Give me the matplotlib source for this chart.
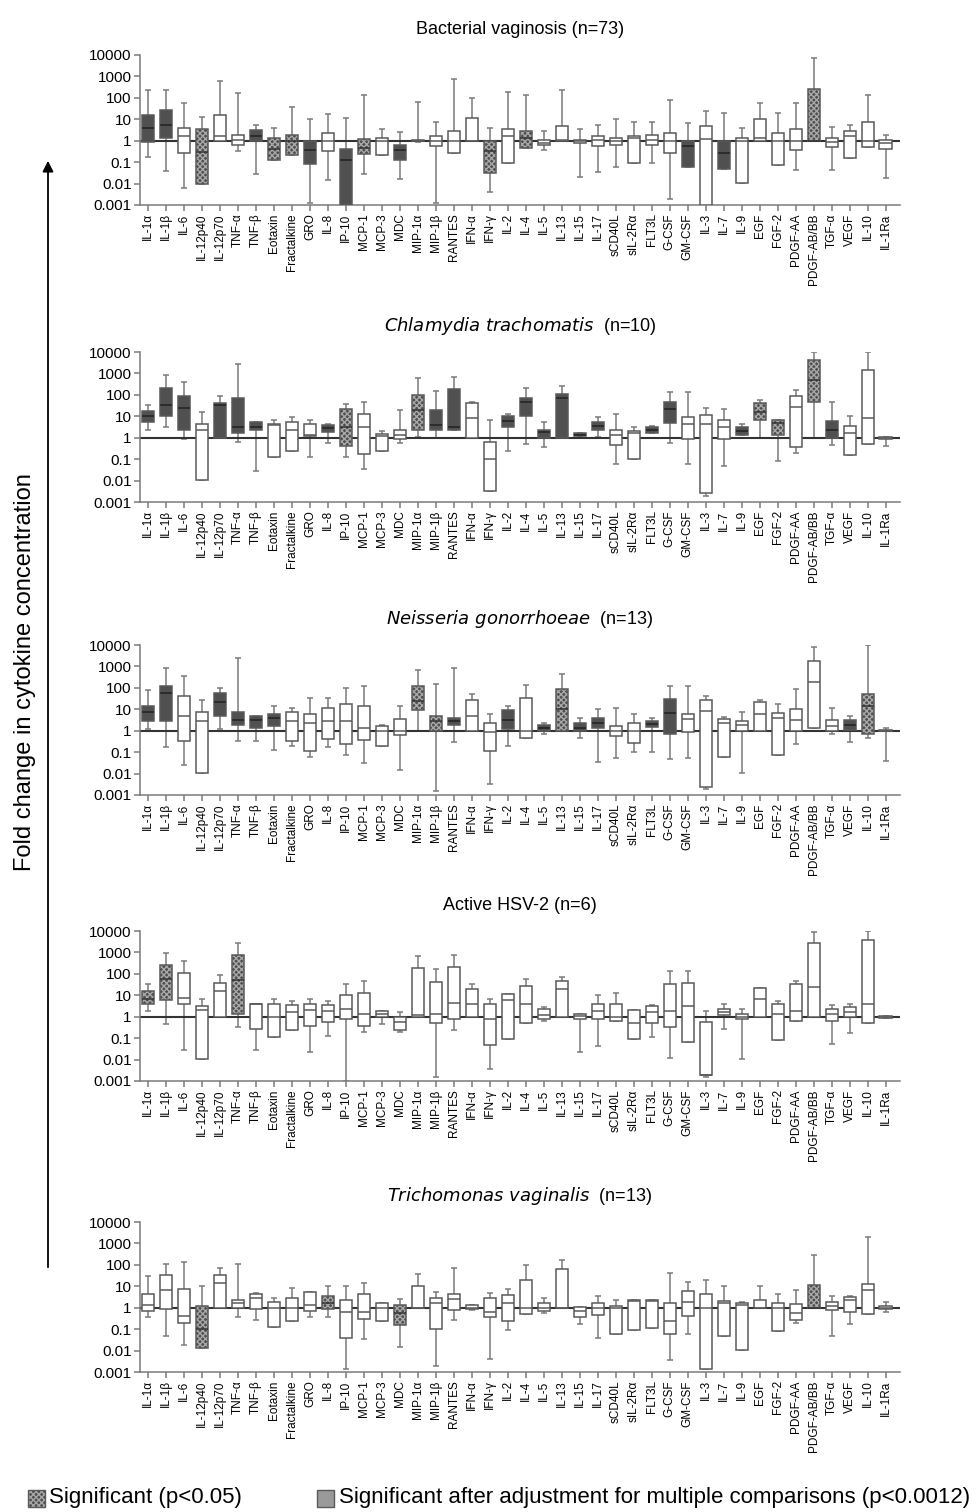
import numpy as np
import matplotlib.pyplot as plt
from matplotlib.patches import Rectangle, FancyArrowPatch

plt.rcParams['font.family'] = ['Liberation Sans', 'DejaVu Sans']
plt.rcParams['hatch.linewidth'] = 1.0

cytokines = ["IL-1α", "IL-1β", "IL-6", "IL-12p40", "IL-12p70", "TNF-α", "TNF-β",
             "Eotaxin", "Fractalkine", "GRO", "IL-8", "IP-10", "MCP-1", "MCP-3",
             "MDC", "MIP-1α", "MIP-1β", "RANTES", "IFN-α", "IFN-γ", "IL-2", "IL-4",
             "IL-5", "IL-13", "IL-15", "IL-17", "sCD40L", "sIL-2Rα", "FLT3L",
             "G-CSF", "GM-CSF", "IL-3", "IL-7", "IL-9", "EGF", "FGF-2", "PDGF-AA",
             "PDGF-AB/BB", "TGF-α", "VEGF", "IL-10", "IL-1Ra"]

# significance codes: w = not significant, h = p<0.05, d = p<0.0012

# Bacterial vaginosis
bv_lo = [0.17, 0.04, 0.006, 0.01, 1.0, 0.32, 0.027, 0.12, 0.21, 0.0013,
         0.014, 0.001, 0.027, 0.21, 0.016, 0.9, 0.0013, 0.27, 1.0, 0.004,
         0.093, 0.46, 0.35, 1.0, 0.02, 0.036, 0.059, 0.093, 0.093, 0.002,
         0.059, 0.001, 0.049, 0.011, 1.0, 0.07, 0.041, 1.0, 0.041, 0.15,
         0.49, 0.018]
bv_q1 = [0.9, 1.3, 0.27, 0.01, 1.0, 0.65, 1.0, 0.12, 0.21, 0.078,
         0.32, 0.001, 0.23, 0.21, 0.12, 0.95, 0.59, 0.27, 1.0, 0.032,
         0.093, 0.46, 0.6, 1.0, 0.78, 0.59, 0.6, 0.093, 0.65, 0.27,
         0.059, 0.001, 0.049, 0.011, 1.0, 0.07, 0.35, 1.0, 0.49, 0.15,
         0.49, 0.43]
bv_med = [4.1, 5.5, 1.6, 0.3, 1.7, 1.1, 1.7, 0.43, 0.93, 0.35,
          1.0, 0.12, 0.46, 1.0, 0.38, 1.0, 1.0, 1.0, 1.0, 0.32,
          1.6, 1.3, 0.8, 1.1, 0.95, 1.1, 1.0, 1.3, 1.1, 1.0,
          0.55, 1.2, 0.27, 1.0, 1.3, 1.0, 1.0, 1.0, 0.85, 1.7,
          1.0, 0.8]
bv_q3 = [16, 27, 4.1, 3.6, 16, 1.9, 3.2, 1.4, 1.9, 0.95,
         2.3, 0.43, 1.2, 1.4, 0.6, 1.05, 1.7, 2.7, 12, 0.93,
         3.5, 2.9, 1.05, 4.9, 1.1, 1.7, 1.4, 1.7, 1.8, 2.4,
         0.93, 4.9, 0.93, 1.4, 10, 2.4, 3.5, 270, 1.3, 2.7,
         7.8, 1.1]
bv_hi = [240, 240, 55, 13, 590, 160, 5.5, 4.1, 36, 10,
         17, 12, 130, 3.5, 2.5, 65, 7.8, 720, 100, 4.1,
         190, 130, 2.9, 240, 3.5, 5.5, 10, 7.8, 7.8, 83,
         7, 24, 20, 4.1, 55, 20, 55, 7200, 4.6, 5.5,
         130, 1.8]
bv_sig = "ddwhwwdhhdwdhwdwwwwhwhwwwwwwwwdwdwwwwhwwww"

# Chlamydia trachomatis
ct_lo = [2.4, 3, 0.84, 0.011, 1, 0.65, 0.027, 0.13, 0.23, 0.12,
         0.55, 0.12, 0.035, 0.23, 0.55, 1.1, 1, 2.3, 1, 0.0032,
         0.23, 0.5, 0.36, 1, 1.1, 1.1, 0.061, 0.1, 1.7, 0.59,
         0.061, 0.0019, 0.049, 1.3, 1, 0.078, 0.19, 1, 0.46, 0.16,
         0.5, 0.41]
ct_q1 = [5.5, 10, 2.4, 0.011, 1, 1.7, 2.4, 0.13, 0.23, 1.2,
         1.9, 0.41, 0.18, 0.23, 0.84, 2.3, 2.3, 2.3, 1, 0.0032,
         3, 10, 1, 1, 1.2, 2.3, 0.46, 0.1, 1.7, 4.9,
         0.84, 0.0025, 0.84, 1.3, 6.5, 1.3, 0.36, 46, 1, 0.16,
         0.5, 0.9]
ct_med = [10, 32, 24, 2.3, 35, 3, 3.2, 4.0, 2.4, 1.3,
          2.7, 3.2, 3, 1.2, 1.4, 20, 3.8, 3, 8.7, 0.1,
          5.9, 46, 1.8, 72, 1.4, 3.5, 1.3, 1.7, 2.3, 23,
          4.6, 4.6, 3, 2.0, 16, 5, 27, 490, 2.2, 1.7,
          8.7, 1.0]
ct_q3 = [17.6, 210, 93, 4.6, 41, 72, 5.5, 4.6, 5.5, 4.3,
         3.8, 22.6, 13, 1.5, 2.3, 100, 20, 190, 41, 0.65,
         10, 72, 2.4, 110, 1.6, 5.5, 2.4, 2.1, 3, 46,
         9.3, 12, 6.5, 3, 41, 6.5, 93, 4100, 6, 3.5,
         1470, 1.05]
ct_hi = [32, 860, 380, 16, 86, 2700, 5.5, 6.5, 9.3, 6.5,
         4.6, 38, 46, 2.1, 20, 610, 158, 700, 46, 6.5,
         13, 200, 5.5, 250, 1.7, 9.3, 13, 3, 3.5, 133,
         133, 24, 22.6, 4.3, 59, 6.5, 170, 10000, 46, 10,
         9500, 1.1]
ct_sig = "dddwdddwwwdhwwwhddwwddddddwwddwwwdhhwhdwww"

# Neisseria gonorrhoeae
ng_lo = [1.2, 0.18, 0.024, 0.011, 1.2, 0.32, 0.32, 0.12, 0.2, 0.059,
         0.17, 0.07, 0.031, 0.2, 0.015, 1, 0.0016, 0.29, 1, 0.0034,
         0.2, 0.46, 0.7, 1, 0.46, 0.034, 0.055, 0.1, 0.1, 0.049,
         0.055, 0.002, 0.059, 0.011, 1, 0.07, 0.23, 1.3, 0.7, 0.29,
         0.46, 0.038]
ng_q1 = [2.9, 2.9, 0.32, 0.011, 4.9, 1.9, 1.4, 1.7, 0.32, 0.11,
         0.41, 0.24, 0.37, 0.2, 0.65, 9, 1, 1.9, 1, 0.11,
         1.2, 0.46, 1, 1, 1, 1.3, 0.59, 0.26, 1.5, 0.7,
         0.84, 0.0024, 0.059, 1, 1, 0.07, 1, 1.3, 1, 1.05,
         0.7, 0.95]
ng_med = [7.8, 58, 4.9, 2.7, 22, 3, 3.1, 3.8, 2.7, 2.2,
          2.7, 2.7, 1.4, 1.0, 1.0, 24, 2.7, 2.7, 4.9, 0.84,
          3.1, 1.0, 1.4, 10, 1.4, 2.4, 1.0, 1.0, 2.1, 7,
          3.5, 8.4, 2.4, 1.8, 6.3, 3.8, 3.1, 190, 1.6, 1.8,
          14, 1.0]
ng_q3 = [14, 120, 41, 7.8, 58, 7.8, 4.9, 6.3, 7.8, 6.3,
         11, 17, 14, 1.7, 3.5, 120, 4.9, 3.8, 26, 2.4,
         9, 34, 1.9, 84, 2.2, 4.1, 1.7, 2.4, 2.7, 29,
         5.9, 26, 3.5, 2.9, 22.6, 7, 10, 1800, 3.1, 3.1,
         53, 1.05]
ng_hi = [78, 830, 350, 26, 100, 2400, 4.9, 14, 11, 34,
         34, 100, 120, 1.9, 15, 700, 150, 830, 49, 5.9,
         14, 140, 2.2, 440, 4.1, 10, 12, 5.9, 3.8, 120,
         120, 41, 4.4, 7.8, 26, 17, 84, 8400, 12, 4.9,
         10000, 1.3]
ng_sig = "ddwwddddwwwwwwwhhdwwdwdhddwwddwwwwwwwwwdhw"

# Active HSV-2
hsv_lo = [1.8, 0.46, 0.029, 0.011, 1, 0.32, 0.027, 0.11, 0.23, 0.022,
          0.12, 0.001, 0.19, 0.46, 0.19, 1, 0.0016, 0.24, 1, 0.0035,
          0.093, 0.49, 0.65, 1, 0.022, 0.041, 0.65, 0.093, 0.11, 0.012,
          0.065, 0.0015, 0.27, 0.011, 1, 0.078, 0.61, 1, 0.051, 0.17,
          0.49, 0.9]
hsv_q1 = [3.8, 5.9, 4.1, 0.011, 1, 1.4, 0.27, 0.11, 0.23, 0.35,
          0.55, 0.78, 0.35, 1, 0.24, 1, 0.49, 0.78, 1, 0.046,
          0.093, 0.49, 0.78, 1, 0.78, 0.78, 0.65, 0.093, 0.49, 0.32,
          0.065, 0.0019, 1.2, 0.78, 1, 0.078, 0.61, 1, 0.65, 0.93,
          0.49, 0.9]
hsv_med = [6.5, 60, 7.3, 2.0, 16, 50, 3.8, 1.0, 1.6, 2.0,
           1.9, 2.3, 1.3, 1.3, 0.55, 1.2, 1.4, 4.6, 3.8, 0.78,
           5.9, 3.8, 1.2, 19, 1.1, 1.9, 1.0, 0.49, 1.6, 1.9,
           3.2, 0.0019, 1.6, 1.0, 6.5, 1.3, 1.9, 24, 1.4, 1.6,
           3.8, 1.0]
hsv_q3 = [16, 250, 110, 3.2, 38, 730, 4.1, 3.8, 3.6, 4.1,
          3.6, 10, 13, 1.9, 0.93, 190, 43, 200, 19, 3.8,
          12, 27, 2.3, 46, 1.4, 3.8, 4.1, 2, 3.2, 35,
          38, 0.55, 2.3, 1.4, 21, 3.8, 32, 2700, 2.3, 2.7,
          3800, 1.1]
hsv_hi = [32, 930, 380, 6.5, 87, 2700, 4.1, 6.5, 5.5, 6.5,
          5.5, 32, 46, 1.9, 1.6, 650, 160, 730, 35, 6.5,
          12, 59, 2.9, 70, 1.4, 10, 13, 2, 3.6, 130,
          130, 1.9, 4.1, 2.3, 21, 5.5, 46, 9300, 3.6, 4.1,
          10000, 1.1]
hsv_sig = "hhwwwhwwwwwwwwwwwwwwwwwwwwwwwwwwwwwwwwwwww"

# Trichomonas vaginalis
tv_lo = [0.35, 0.049, 0.018, 0.013, 1, 0.35, 0.27, 0.13, 0.24, 0.38,
         0.38, 0.0014, 0.035, 0.24, 0.014, 1, 0.0019, 0.27, 0.8, 0.0039,
         0.093, 0.5, 0.59, 1, 0.18, 0.039, 0.061, 0.093, 0.11, 0.0036,
         0.061, 0.0014, 0.049, 0.011, 1, 0.078, 0.19, 1, 0.049, 0.18,
         0.5, 0.63]
tv_q1 = [0.7, 0.84, 0.19, 0.013, 1, 1, 0.84, 0.13, 0.24, 0.7,
         0.84, 0.037, 0.29, 0.24, 0.15, 1, 0.1, 0.78, 0.85, 0.35,
         0.25, 0.5, 0.73, 1, 0.38, 0.46, 0.061, 0.093, 0.11, 0.061,
         0.41, 0.0014, 0.049, 0.011, 1, 0.078, 0.27, 1, 0.78, 0.65,
         0.5, 0.84]
tv_med = [1.3, 7, 0.41, 0.1, 14, 1.7, 2.9, 1.0, 1.0, 1.4,
          1.7, 0.63, 0.63, 1.0, 0.59, 1.0, 1.6, 2.6, 1.0, 0.65,
          1.6, 1.0, 1.0, 1.0, 0.7, 1.0, 1.0, 2.0, 2.0, 0.25,
          1.9, 1.0, 1.6, 1.3, 1.0, 1.0, 0.59, 1.0, 1.2, 2.3,
          6.5, 1.0]
tv_q3 = [4.6, 35, 7.5, 1.2, 35, 2.3, 4.6, 1.8, 2.9, 5.3,
         3.5, 2.3, 4.6, 1.6, 1.3, 10.7, 2.9, 4.6, 1.3, 2.9,
         4.1, 19, 1.6, 65, 1.1, 1.6, 1.2, 2.3, 2.4, 1.6,
         6.1, 4.6, 2.1, 1.7, 2.3, 1.7, 1.5, 12, 1.9, 3.2,
         13, 1.2]
tv_hi = [31, 110, 130, 10.7, 70, 110, 4.9, 2.9, 8.4, 5.3,
         10.7, 10.7, 15, 1.6, 2.6, 38, 5.3, 70, 1.3, 4.9,
         7.8, 100, 2.7, 160, 1.1, 3.4, 2.3, 2.3, 2.4, 41,
         16, 19, 10, 1.9, 10, 4.3, 6.5, 300, 3.4, 3.4,
         2100, 1.8]
tv_sig = "wwwhwwwwwwhwwwhwwwwwwwwwwwwwwwwwwwwwwhwwww"

panels = [
    ("Bacterial vaginosis (n=73)", bv_lo, bv_q1, bv_med, bv_q3, bv_hi, bv_sig),
    (r"$\it{Chlamydia\ trachomatis}$  (n=10)", ct_lo, ct_q1, ct_med, ct_q3, ct_hi, ct_sig),
    (r"$\it{Neisseria\ gonorrhoeae}$  (n=13)", ng_lo, ng_q1, ng_med, ng_q3, ng_hi, ng_sig),
    ("Active HSV-2 (n=6)", hsv_lo, hsv_q1, hsv_med, hsv_q3, hsv_hi, hsv_sig),
    (r"$\it{Trichomonas\ vaginalis}$  (n=13)", tv_lo, tv_q1, tv_med, tv_q3, tv_hi, tv_sig),
]

W, H = 979, 1512
fig = plt.figure(figsize=(W / 100, H / 100), dpi=100)

tops = [55, 352, 645, 931, 1222]
axis_col = "#7a7a7a"
box_col = "#5a5a5a"
dark = "#505050"
hatch_bg = "#4e4e4e"
hatch_fg = "#a8a8a8"
hatch = "xxxxxx"
bw = 0.68

for k, (title, lo, q1, med, q3, hi, sig) in enumerate(panels):
    ax = fig.add_axes([140 / W, 1 - (tops[k] + 150) / H, 760 / W, 150 / H])
    ax.set_yscale("log")
    for i in range(len(cytokines)):
        # whiskers and caps
        ax.vlines(i, lo[i], hi[i], color=axis_col, lw=1.1, zorder=2)
        ax.hlines([lo[i], hi[i]], i - 0.17, i + 0.17, color=axis_col, lw=1.1, zorder=2)
        height = q3[i] - q1[i]
        if sig[i] == "d":
            ax.bar(i, height, bottom=q1[i], width=bw, color=dark,
                   edgecolor=box_col, lw=1.1, zorder=3)
            mcol = "#222222"
        elif sig[i] == "h":
            ax.bar(i, height, bottom=q1[i], width=bw, color=hatch_bg,
                   edgecolor=hatch_fg, lw=0, hatch=hatch, zorder=3)
            ax.bar(i, height, bottom=q1[i], width=bw, fill=False,
                   edgecolor=box_col, lw=1.1, zorder=3)
            mcol = "#333333"
        else:
            ax.bar(i, height, bottom=q1[i], width=bw, color="white",
                   edgecolor=box_col, lw=1.1, zorder=3)
            mcol = box_col
        ax.hlines(med[i], i - bw / 2, i + bw / 2, color=mcol, lw=1.1, zorder=4)

    ax.axhline(1, color="#333333", lw=1.5, zorder=2.5)
    ax.set_ylim(0.001, 10000)
    ax.set_xlim(-0.45, 41.8)
    yt = [0.001, 0.01, 0.1, 1, 10, 100, 1000, 10000]
    ax.set_yticks(yt)
    ax.set_yticklabels(["0.001", "0.01", "0.1", "1", "10", "100", "1000", "10000"], fontsize=11)
    ax.minorticks_off()
    ax.set_xticks(range(len(cytokines)))
    ax.set_xticklabels(cytokines, rotation=90, fontsize=8.5)
    for s in ["top", "right"]:
        ax.spines[s].set_visible(False)
    for s in ["left", "bottom"]:
        ax.spines[s].set_color(axis_col)
        ax.spines[s].set_linewidth(1.1)
    ax.tick_params(direction="out", length=4, color=axis_col, width=1.1, pad=2)
    ax.set_title(title, fontsize=13, pad=15)

# y axis label and arrow
fig.text(25 / W, 1 - 672 / H, "Fold change in cytokine concentration",
         rotation=90, ha="center", va="center", fontsize=17)
fig.add_artist(FancyArrowPatch((48 / W, 1 - 1270 / H), (48 / W, 1 - 158 / H),
                               transform=fig.transFigure, arrowstyle="-|>",
                               mutation_scale=16, lw=1.3, color="black"))

# legend
fig.add_artist(Rectangle((28 / W, 1 - 1507 / H), 17 / W, 17 / H, transform=fig.transFigure,
                         facecolor=hatch_bg, edgecolor=hatch_fg, hatch=hatch, lw=0))
fig.add_artist(Rectangle((28 / W, 1 - 1507 / H), 17 / W, 17 / H, transform=fig.transFigure,
                         fill=False, edgecolor=box_col, lw=1))
fig.text(49 / W, 1 - 1498 / H, "Significant (p<0.05)", fontsize=16, va="center")
fig.add_artist(Rectangle((317 / W, 1 - 1507 / H), 17 / W, 17 / H, transform=fig.transFigure,
                         facecolor="#9a9a9a", edgecolor=box_col, lw=1))
fig.text(339 / W, 1 - 1498 / H,
         "Significant after adjustment for multiple comparisons (p<0.0012)",
         fontsize=16, va="center")

fig.savefig("out.png", dpi=100)
